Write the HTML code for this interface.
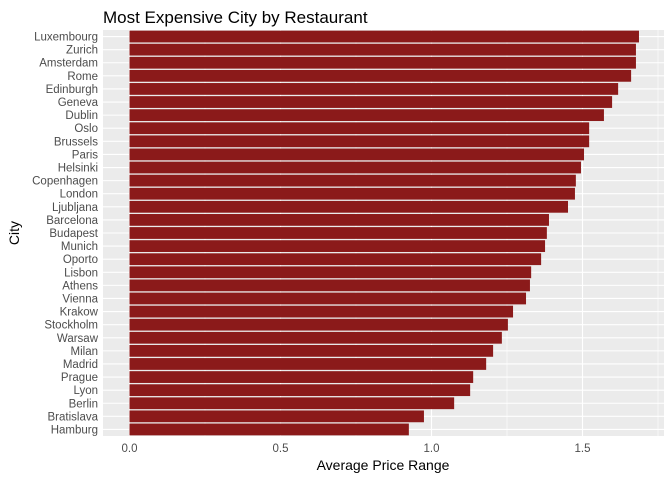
<!DOCTYPE html>
<html><head><meta charset="utf-8"><style>
body{margin:0;background:#fff;font-family:"Liberation Sans",sans-serif}
</style></head><body>
<svg id="chart" width="672" height="480" xmlns="http://www.w3.org/2000/svg" font-family="Liberation Sans, sans-serif"></svg>
<script>
const cities=["Luxembourg","Zurich","Amsterdam","Rome","Edinburgh","Geneva","Dublin","Oslo","Brussels","Paris","Helsinki","Copenhagen","London","Ljubljana","Barcelona","Budapest","Munich","Oporto","Lisbon","Athens","Vienna","Krakow","Stockholm","Warsaw","Milan","Madrid","Prague","Lyon","Berlin","Bratislava","Hamburg"];
const values=[1.687,1.677,1.677,1.661,1.618,1.598,1.571,1.522,1.522,1.505,1.495,1.478,1.475,1.452,1.389,1.382,1.376,1.363,1.330,1.326,1.313,1.270,1.253,1.233,1.204,1.181,1.138,1.128,1.075,0.975,0.925];
const xTicks=[0,0.5,1.0,1.5];
const xTickLabels=["0.0","0.5","1.0","1.5"];

const NS="http://www.w3.org/2000/svg";
const svg=document.getElementById('chart');
function mk(tag,attrs,parent){const e=document.createElementNS(NS,tag);for(const k in attrs)e.setAttribute(k,attrs[k]);(parent||svg).appendChild(e);return e;}
const L=103,R=664,T=30,B=436;
const x=v=>129.5+v*302;
const step=(B-T)/cities.length;
const y=i=>T+step*(i+0.5);

const panel=mk('rect',{x:L,y:T,width:R-L,height:B-T,fill:'#ebebeb'});


// minor grid
for(let v=0.25;v<1.8;v+=0.5){const g=mk('line',{x1:x(v),x2:x(v),y1:T,y2:B,stroke:'#fff','stroke-width':0.6});

}
xTicks.forEach((v,i)=>{
 const g=mk('line',{x1:x(v),x2:x(v),y1:T,y2:B,stroke:'#fff','stroke-width':1.1});
 
 
 const t=mk('text',{x:x(v),y:452,'text-anchor':'middle','font-size':11.5,fill:'#4d4d4d'});
 t.textContent=xTickLabels[i];
 
 
});
cities.forEach((c,i)=>{
 const g=mk('line',{x1:L,x2:R,y1:y(i),y2:y(i),stroke:'#fff','stroke-width':1.1});
 
 
});
cities.forEach((c,i)=>{
 const h=step*0.9;
 const b=mk('rect',{x:x(0),y:y(i)-h/2,width:x(values[i])-x(0),height:h,fill:'#8b1a1a'});
 
 
 const t=mk('text',{x:98,y:y(i)+4,'text-anchor':'end','font-size':11.5,fill:'#4d4d4d'});
 t.textContent=c;
 
 
});
const ti=mk('text',{x:103,y:23,'font-size':17,fill:'#000'});ti.textContent='Most Expensive City by Restaurant';


const xt=mk('text',{x:383,y:470,'text-anchor':'middle','font-size':14,fill:'#000'});xt.textContent='Average Price Range';


const yt=mk('text',{x:0,y:0,'text-anchor':'middle','font-size':14,fill:'#000',transform:'translate(19,233) rotate(-90)'});yt.textContent='City';


</script>
</body></html>
